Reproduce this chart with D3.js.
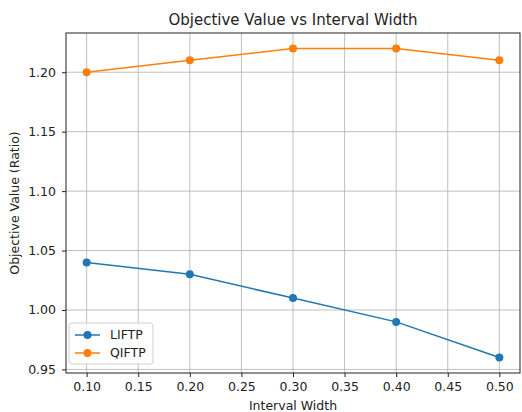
<!DOCTYPE html>
<html lang="en">
<head>
  <meta charset="UTF-8">
  <title>Objective Value vs Interval Width</title>
  <script src="https://d3js.org/d3.v7.min.js"></script>
  <style>
    body { margin: 0; background: #fff; }
    svg { display: block; font-family: "DejaVu Sans", sans-serif; }
  </style>
</head>
<body>
<script>
  const widths = [0.10, 0.20, 0.30, 0.40, 0.50];
  const liftp = [1.04, 1.03, 1.01, 0.99, 0.96];
  const qiftp = [1.20, 1.21, 1.22, 1.22, 1.21];
  const xTicks = [0.10, 0.15, 0.20, 0.25, 0.30, 0.35, 0.40, 0.45, 0.50];
  const yTicks = [0.95, 1.00, 1.05, 1.10, 1.15, 1.20];

  const series = [
    {name: 'LIFTP', values: liftp, color: '#1f77b4'},
    {name: 'QIFTP', values: qiftp, color: '#ff7f0e'}
  ];

  function drawChart () {
    const width = 522;
    const height = 412;
    const margin = {top: 33, right: 2, bottom: 39, left: 66};
    const tickFont = '12.5px';

    const x = d3.scaleLinear()
      .domain([0.08, 0.52])
      .range([margin.left, width - margin.right]);

    const y = d3.scaleLinear()
      .domain([0.947, 1.233])
      .range([height - margin.bottom, margin.top]);

    const svg = d3.select('body').append('svg')
      .attr('width', width)
      .attr('height', height);

    // grid
    svg.append('g')
      .selectAll('line')
      .data(xTicks)
      .join('line')
      .attr('x1', d => x(d)).attr('x2', d => x(d))
      .attr('y1', margin.top).attr('y2', height - margin.bottom)
      .attr('stroke', '#b0b0b0')
      .attr('stroke-width', 0.8);

    svg.append('g')
      .selectAll('line')
      .data(yTicks)
      .join('line')
      .attr('x1', margin.left).attr('x2', width - margin.right)
      .attr('y1', d => y(d)).attr('y2', d => y(d))
      .attr('stroke', '#b0b0b0')
      .attr('stroke-width', 0.8);

    const xAxis = g => g
      .attr('transform', `translate(0,${height - margin.bottom})`)
      .call(d3.axisBottom(x).tickValues(xTicks).tickFormat(d3.format('.2f')).tickSize(4).tickPadding(5))
      .call(g => g.select('.domain').remove())
      .call(g => g.selectAll('line').attr('stroke', '#222'))
      .call(g => g.selectAll('text').attr('fill', '#222').style('font-size', tickFont).style('font-family', '"DejaVu Sans", sans-serif'));

    const yAxis = g => g
      .attr('transform', `translate(${margin.left},0)`)
      .call(d3.axisLeft(y).tickValues(yTicks).tickFormat(d3.format('.2f')).tickSize(4).tickPadding(6))
      .call(g => g.select('.domain').remove())
      .call(g => g.selectAll('line').attr('stroke', '#222'))
      .call(g => g.selectAll('text').attr('fill', '#222').style('font-size', tickFont).style('font-family', '"DejaVu Sans", sans-serif'));

    svg.append('g').call(xAxis);
    svg.append('g').call(yAxis);

    const line = d3.line()
      .x((d, i) => x(widths[i]))
      .y(d => y(d));

    series.forEach(s => {
      svg.append('path')
        .datum(s.values)
        .attr('fill', 'none')
        .attr('stroke', s.color)
        .attr('stroke-width', 1.5)
        .attr('d', line);

      svg.append('g')
        .selectAll('circle')
        .data(s.values)
        .join('circle')
        .attr('cx', (d, i) => x(widths[i]))
        .attr('cy', d => y(d))
        .attr('r', 4)
        .attr('fill', s.color);
    });

    // frame
    svg.append('rect')
      .attr('x', margin.left)
      .attr('y', margin.top)
      .attr('width', width - margin.right - margin.left)
      .attr('height', height - margin.bottom - margin.top)
      .attr('fill', 'none')
      .attr('stroke', '#222')
      .attr('stroke-width', 1);

    // title and labels
    svg.append('text')
      .attr('x', (margin.left + width - margin.right) / 2)
      .attr('y', 24.5)
      .attr('text-anchor', 'middle')
      .attr('fill', '#222')
      .style('font-size', '15px')
      .text('Objective Value vs Interval Width');

    svg.append('text')
      .attr('x', (margin.left + width - margin.right) / 2)
      .attr('y', 410)
      .attr('text-anchor', 'middle')
      .attr('fill', '#222')
      .style('font-size', '12.5px')
      .text('Interval Width');

    svg.append('text')
      .attr('transform', `translate(19,${(margin.top + height - margin.bottom) / 2}) rotate(-90)`)
      .attr('text-anchor', 'middle')
      .attr('fill', '#222')
      .style('font-size', '12.5px')
      .text('Objective Value (Ratio)');

    // legend
    const legend = svg.append('g').attr('transform', 'translate(69,323)');
    legend.append('rect')
      .attr('width', 84).attr('height', 41)
      .attr('rx', 3)
      .attr('fill', 'rgba(255,255,255,0.8)')
      .attr('stroke', '#d0d0d0');

    const item = legend.selectAll('g.item')
      .data(series)
      .join('g')
      .attr('class', 'item')
      .attr('transform', (d, i) => `translate(0,${12 + i * 18})`);

    item.append('line')
      .attr('x1', 6).attr('x2', 31)
      .attr('stroke', d => d.color)
      .attr('stroke-width', 1.5);
    item.append('circle')
      .attr('cx', 18.5).attr('r', 4)
      .attr('fill', d => d.color);
    item.append('text')
      .attr('x', 41).attr('dy', '0.35em')
      .attr('fill', '#222')
      .style('font-size', '12.5px')
      .text(d => d.name);
  }

  drawChart();
</script>
</body>
</html>
